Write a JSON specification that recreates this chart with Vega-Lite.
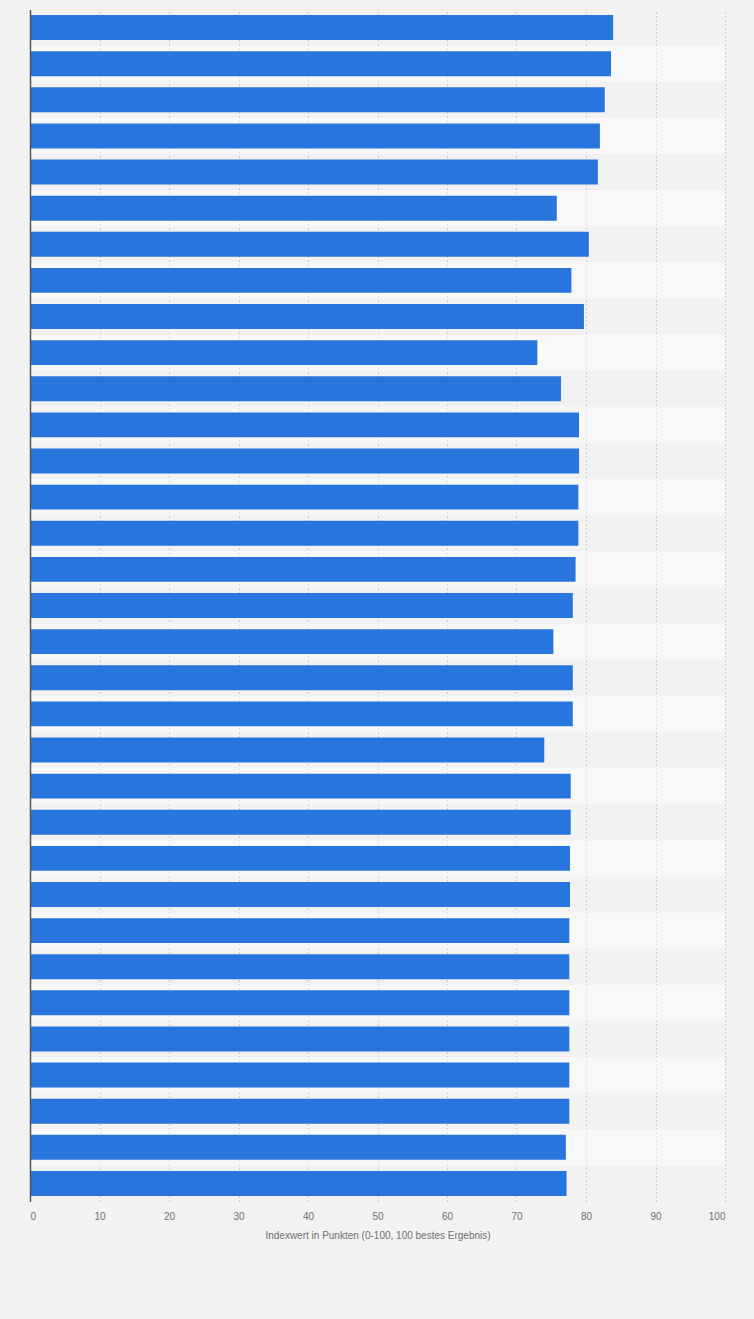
{
  "$schema": "https://vega.github.io/schema/vega-lite/v6.json",
  "width": 695,
  "height": 1192,
  "autosize": {"type": "none"},
  "padding": {"left": 30, "top": 9.5, "right": 29, "bottom": 117.5},
  "background": "#f2f2f2",
  "data": {
    "values": [
      {"Rang": 1, "Index": 83.9},
      {"Rang": 2, "Index": 83.6},
      {"Rang": 3, "Index": 82.7},
      {"Rang": 4, "Index": 82.0},
      {"Rang": 5, "Index": 81.7},
      {"Rang": 6, "Index": 75.8},
      {"Rang": 7, "Index": 80.4},
      {"Rang": 8, "Index": 77.9},
      {"Rang": 9, "Index": 79.7},
      {"Rang": 10, "Index": 73.0},
      {"Rang": 11, "Index": 76.4},
      {"Rang": 12, "Index": 79.0},
      {"Rang": 13, "Index": 79.0},
      {"Rang": 14, "Index": 78.9},
      {"Rang": 15, "Index": 78.9},
      {"Rang": 16, "Index": 78.5},
      {"Rang": 17, "Index": 78.1},
      {"Rang": 18, "Index": 75.3},
      {"Rang": 19, "Index": 78.1},
      {"Rang": 20, "Index": 78.1},
      {"Rang": 21, "Index": 74.0},
      {"Rang": 22, "Index": 77.8},
      {"Rang": 23, "Index": 77.8},
      {"Rang": 24, "Index": 77.7},
      {"Rang": 25, "Index": 77.7},
      {"Rang": 26, "Index": 77.6},
      {"Rang": 27, "Index": 77.6},
      {"Rang": 28, "Index": 77.6},
      {"Rang": 29, "Index": 77.6},
      {"Rang": 30, "Index": 77.6},
      {"Rang": 31, "Index": 77.6},
      {"Rang": 32, "Index": 77.1},
      {"Rang": 33, "Index": 77.2}
    ]
  },
  "encoding": {
    "y": {
      "field": "Rang",
      "type": "ordinal",
      "scale": {"paddingInner": 0, "paddingOuter": 0},
      "axis": {
        "title": null,
        "labels": false,
        "ticks": false,
        "grid": false,
        "domain": true,
        "domainColor": "#555555",
        "domainWidth": 1.5
      }
    }
  },
  "layer": [
    {
      "transform": [{"filter": "datum.Rang % 2 == 0"}],
      "mark": {"type": "rect", "color": "#ffffff", "opacity": 0.45},
      "encoding": {
        "x": {"datum": 0, "type": "quantitative"},
        "x2": {"datum": 100}
      }
    },
    {
      "mark": {"type": "bar", "color": "#2876dd", "height": {"band": 0.69}},
      "encoding": {
        "x": {
          "field": "Index",
          "type": "quantitative",
          "title": "Indexwert in Punkten (0-100, 100 bestes Ergebnis)",
          "scale": {"domain": [0, 100], "nice": false},
          "axis": {
            "values": [0, 10, 20, 30, 40, 50, 60, 70, 80, 90, 100],
            "labelFlush": true,
            "labelPadding": 10,
            "labelFontSize": 10,
            "labelColor": "#707070",
            "labelFont": "Liberation Sans",
            "titleFont": "Liberation Sans",
            "titleFontSize": 10,
            "titleFontWeight": "normal",
            "titleColor": "#707070",
            "titlePadding": 9,
            "domain": false,
            "ticks": false,
            "grid": true,
            "gridColor": "#cccccc",
            "gridDash": [2, 2],
            "gridWidth": 1
          }
        },
        "tooltip": [
          {"field": "Rang", "type": "ordinal"},
          {"field": "Index", "type": "quantitative"}
        ]
      }
    }
  ],
  "config": {
    "view": {"stroke": null}
  }
}
